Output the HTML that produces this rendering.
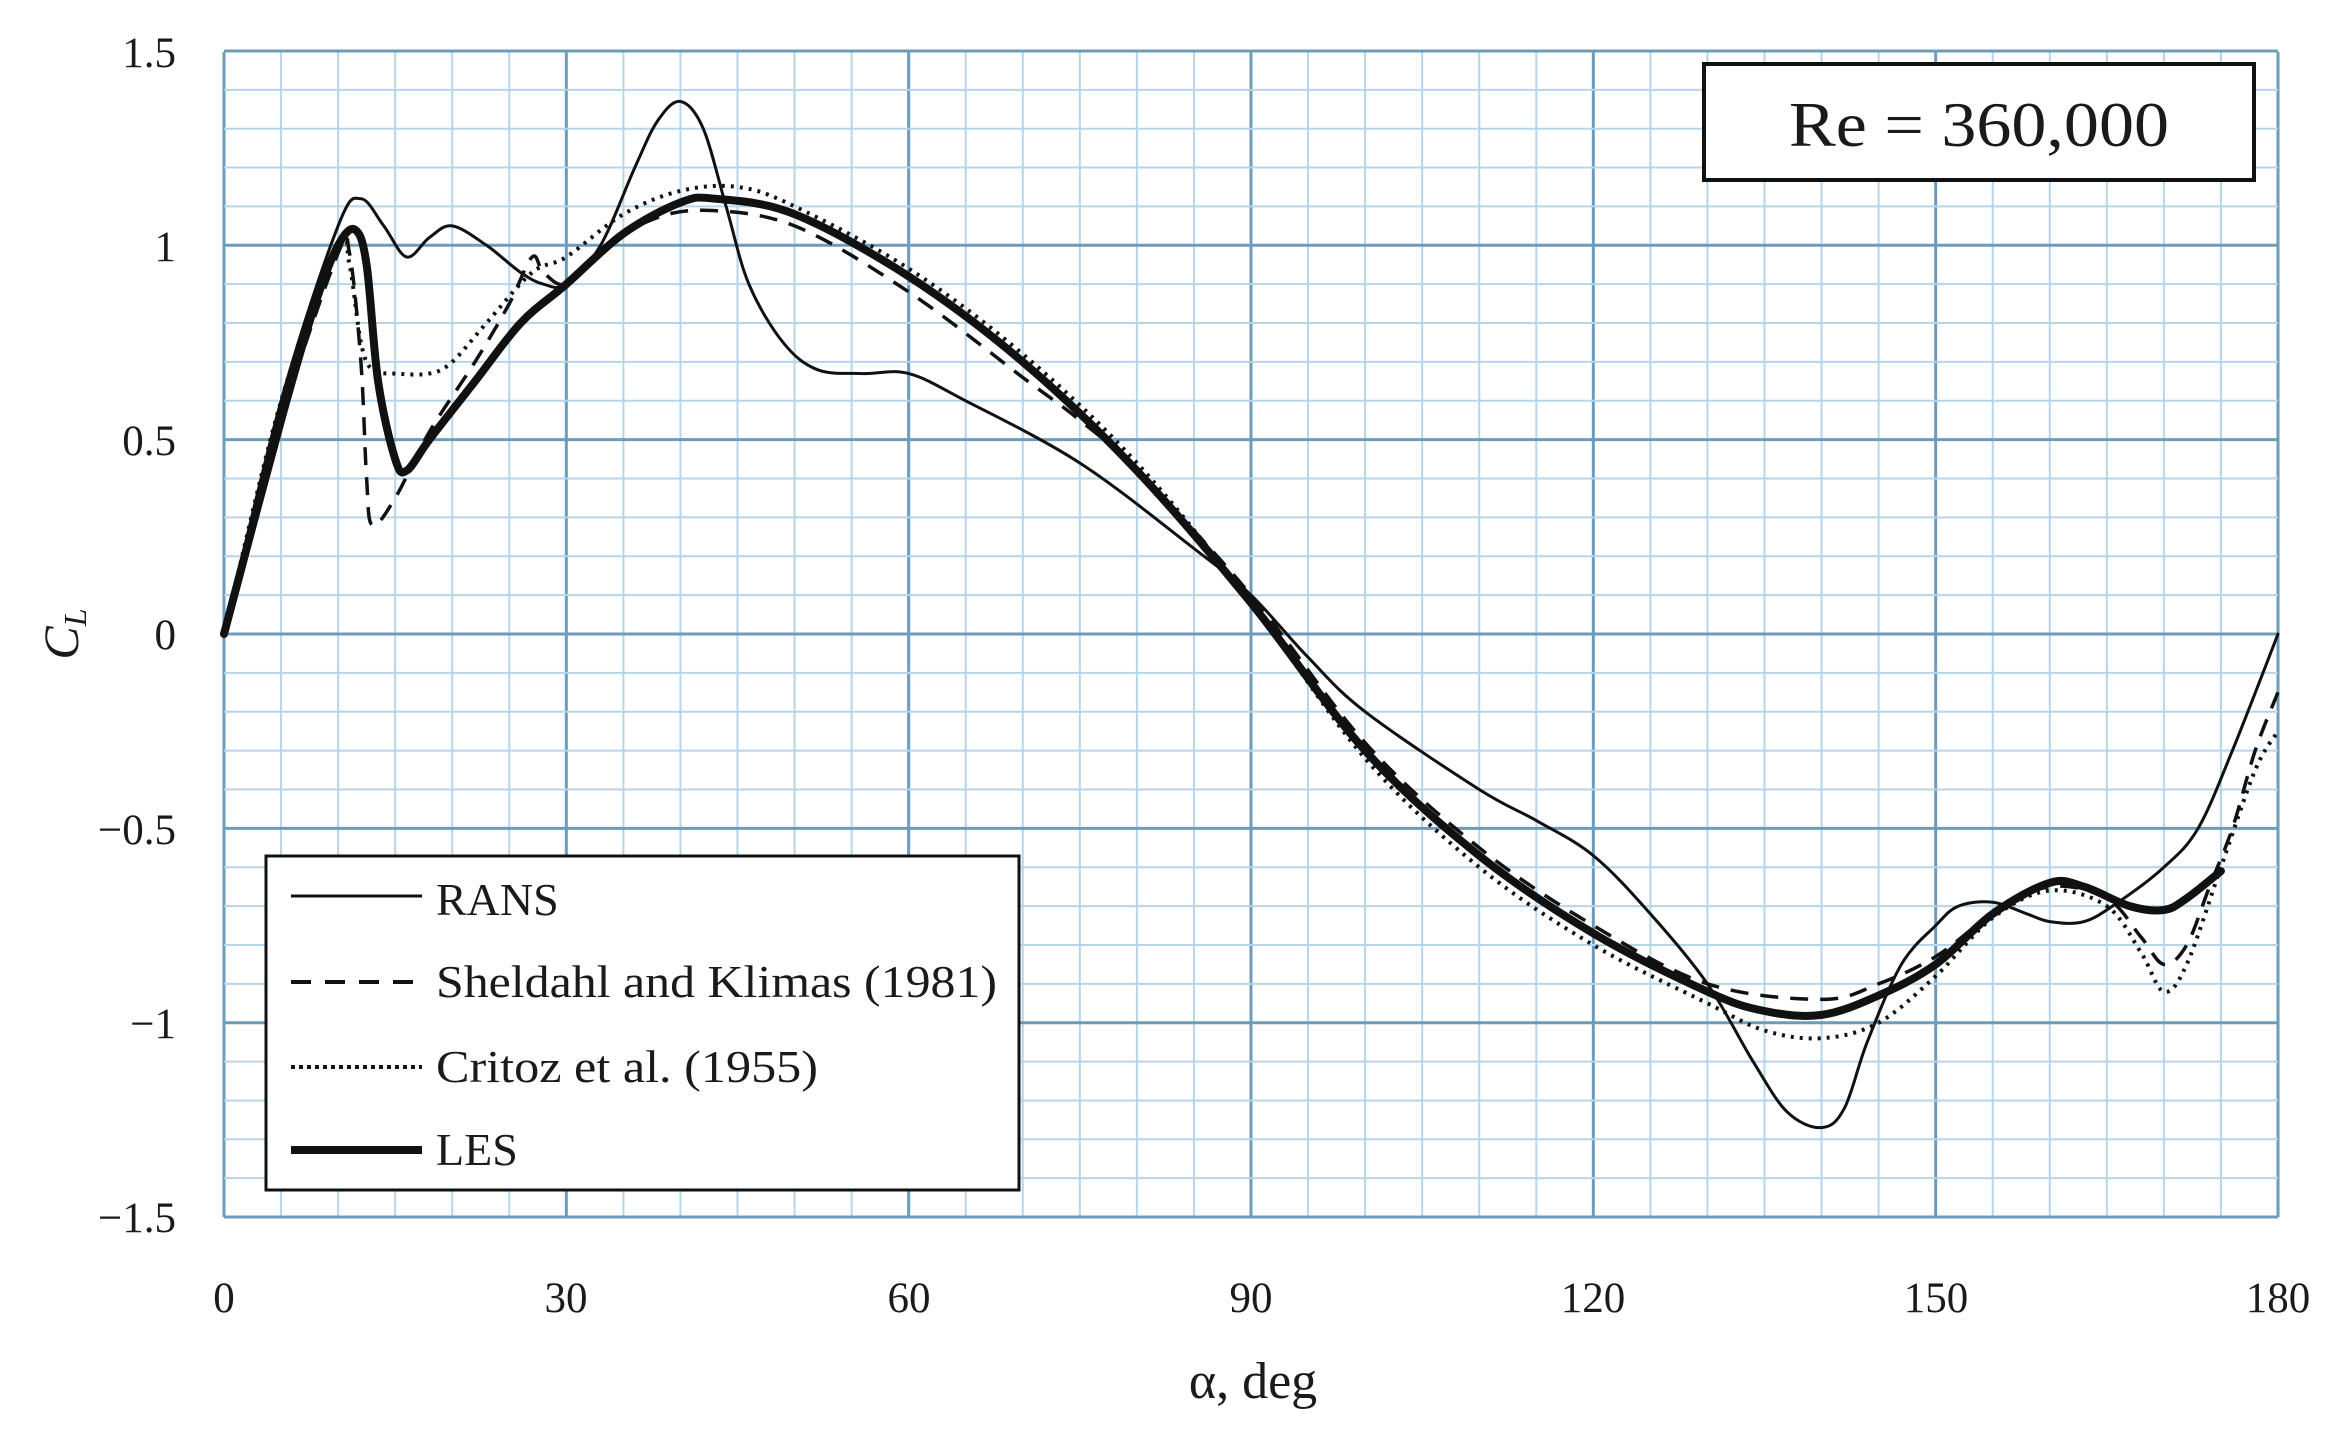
<!DOCTYPE html>
<html><head><meta charset="utf-8"><style>
html,body{margin:0;padding:0;background:#fff;}
svg{display:block;}
text{font-family:"Liberation Serif",serif;fill:#1a1a1a;}
</style></head><body>
<svg id="s" width="2339" height="1443" viewBox="0 0 2339 1443" xmlns="http://www.w3.org/2000/svg">
<g id="grid"></g>
<g id="curves" fill="none" stroke="#111" stroke-linejoin="round" stroke-linecap="round"></g>
<g font-size="43" text-anchor="end">
<text x="176" y="67">1.5</text>
<text x="176" y="261">1</text>
<text x="176" y="455">0.5</text>
<text x="176" y="649">0</text>
<text x="176" y="844">−0.5</text>
<text x="176" y="1038">−1</text>
<text x="176" y="1232">−1.5</text>
</g>
<g font-size="43" text-anchor="middle">
<text x="224" y="1312">0</text>
<text x="566" y="1312">30</text>
<text x="909" y="1312">60</text>
<text x="1251" y="1312">90</text>
<text x="1593" y="1312">120</text>
<text x="1936" y="1312">150</text>
<text x="2278" y="1312">180</text>
<text x="1253" y="1398" font-size="52">α, deg</text>
</g>
<text transform="translate(78,634) rotate(-90)" font-size="50" font-style="italic" text-anchor="middle">C<tspan font-size="32" dy="8">L</tspan></text>
<rect x="1704" y="64" width="550" height="116" fill="#fff" stroke="#111" stroke-width="4"/>
<text x="1979" y="146" font-size="63" text-anchor="middle" textLength="380" lengthAdjust="spacingAndGlyphs">Re = 360,000</text>
<rect x="266" y="856" width="753" height="334" fill="#fff" stroke="#111" stroke-width="3"/>
<g stroke="#111" fill="none">
<line x1="291" y1="896" x2="422" y2="896" stroke-width="3"/>
<line x1="291" y1="982" x2="422" y2="982" stroke-width="4" stroke-dasharray="20,14"/>
<line x1="291" y1="1067" x2="422" y2="1067" stroke-width="4" stroke-dasharray="4,4"/>
<line x1="291" y1="1150" x2="422" y2="1150" stroke-width="8"/>
</g>
<g font-size="46">
<text x="436" y="915">RANS</text>
<text x="436" y="997" textLength="561" lengthAdjust="spacingAndGlyphs">Sheldahl and Klimas (1981)</text>
<text x="436" y="1082" textLength="382" lengthAdjust="spacingAndGlyphs">Critoz et al. (1955)</text>
<text x="436" y="1165">LES</text>
</g>
</svg>
<script>
var X=a=>224+a*2054/180, Y=c=>634-c*388.7;
var g=document.getElementById('grid'),h='';
for(var a=0;a<=180;a+=5){var maj=a%30==0;h+='<line x1="'+X(a)+'" y1="52" x2="'+X(a)+'" y2="1217" stroke="'+(maj?'#6d9cba':'#b6d5ea')+'" stroke-width="'+(maj?3:2)+'"/>';}
for(var i=-15;i<=15;i++){var c=i/10,maj=i%5==0;h+='<line x1="224" y1="'+Y(c)+'" x2="2278" y2="'+Y(c)+'" stroke="'+(maj?'#6d9cba':'#b6d5ea')+'" stroke-width="'+(maj?3:2)+'"/>';}
g.innerHTML=h;
function path(p){var pts=[];for(var i=0;i<p.length;i+=2)pts.push([X(p[i]),Y(p[i+1])]);
var d='M'+pts[0][0]+','+pts[0][1];
for(var i=0;i<pts.length-1;i++){var p0=pts[Math.max(0,i-1)],p1=pts[i],p2=pts[i+1],p3=pts[Math.min(pts.length-1,i+2)];
var c1=[p1[0]+(p2[0]-p0[0])/6,p1[1]+(p2[1]-p0[1])/6],c2=[p2[0]-(p3[0]-p1[0])/6,p2[1]-(p3[1]-p1[1])/6];
d+='C'+c1[0].toFixed(1)+','+c1[1].toFixed(1)+' '+c2[0].toFixed(1)+','+c2[1].toFixed(1)+' '+p2[0].toFixed(1)+','+p2[1].toFixed(1);}
return d;}
var les=[0,0,5,0.55,8,0.85,10,1.0,11.5,1.04,12.5,0.95,13.5,0.65,15,0.45,16,0.42,18,0.5,22,0.65,26,0.8,30,0.9,35,1.03,40,1.11,43,1.12,50,1.08,60,0.92,70,0.7,80,0.42,90,0.08,100,-0.3,110,-0.57,120,-0.77,130,-0.92,135,-0.97,140,-0.98,145,-0.93,150,-0.85,155,-0.72,160,-0.64,163,-0.65,167,-0.7,170,-0.71,172,-0.68,175,-0.61];
var rans=[0,0,5,0.6,10,1.05,12,1.12,14,1.05,16,0.97,18,1.02,20,1.05,23,1.0,26,0.93,28,0.9,30,0.9,33,1.0,36,1.2,38,1.32,40,1.37,42,1.3,44,1.1,46,0.9,49,0.75,52,0.68,56,0.67,60,0.67,65,0.6,75,0.44,85,0.22,90,0.1,95,-0.06,100,-0.2,110,-0.4,115,-0.48,120,-0.57,125,-0.72,130,-0.9,134,-1.1,137,-1.23,140,-1.27,142,-1.22,144,-1.05,147,-0.85,150,-0.75,152,-0.7,155,-0.69,158,-0.72,160,-0.74,163,-0.74,166,-0.69,170,-0.6,173,-0.5,176,-0.3,180,0];
var she=[0,0,5,0.55,10,0.98,11,0.98,12,0.7,12.5,0.4,13,0.28,15,0.35,18,0.52,22,0.7,25,0.85,27,0.97,28,0.93,30,0.9,33,0.98,37,1.06,42,1.09,50,1.05,60,0.88,70,0.66,75,0.55,80,0.42,90,0.1,100,-0.28,110,-0.55,120,-0.75,130,-0.9,140,-0.94,145,-0.9,150,-0.83,155,-0.72,160,-0.65,165,-0.68,168,-0.78,170,-0.85,172,-0.8,174,-0.65,176,-0.5,178,-0.3,180,-0.15];
var cri=[0,0,5,0.6,10,1.0,11,0.95,12,0.75,13,0.68,15,0.67,18,0.67,20,0.7,23,0.8,27,0.93,30,0.97,35,1.08,40,1.14,45,1.15,50,1.1,60,0.94,70,0.72,80,0.44,90,0.08,100,-0.32,110,-0.6,120,-0.8,130,-0.95,135,-1.02,140,-1.04,145,-1.0,150,-0.88,155,-0.73,160,-0.66,165,-0.7,168,-0.82,170,-0.92,172,-0.85,175,-0.6,178,-0.35,180,-0.25];
document.getElementById('curves').innerHTML=
'<path d="'+path(rans)+'" stroke-width="3"/>'+
'<path d="'+path(she)+'" stroke-width="3.5" stroke-dasharray="18,12" stroke-linecap="butt"/>'+
'<path d="'+path(cri)+'" stroke-width="4" stroke-dasharray="3,6" stroke-linecap="butt"/>'+
'<path d="'+path(les)+'" stroke-width="8"/>';
</script>
</body></html>
